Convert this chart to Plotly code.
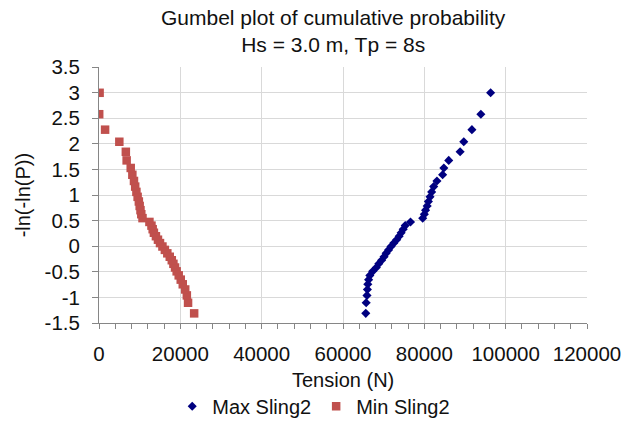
import plotly.graph_objects as go

# Gumbel reduced variate -ln(-ln(P)) for each ranked sample
reduced_variate = [-1.312, -1.105, -0.961, -0.845, -0.744, -0.653, -0.570, -0.491,
                   -0.416, -0.344, -0.274, -0.206, -0.139, -0.072, -0.006, 0.061,
                   0.127, 0.195, 0.263, 0.332, 0.402, 0.474, 0.548, 0.625, 0.704,
                   0.786, 0.873, 0.964, 1.061, 1.164, 1.274, 1.395, 1.528, 1.676,
                   1.844, 2.040, 2.276, 2.578, 2.996]

# Sling 2 tension extremes (N), ranked
max_sling2 = [65600, 65700, 65900, 66000, 66100, 66300, 66600, 67300, 68200, 68800,
              69500, 70100, 70600, 71200, 71800, 72500, 73200, 73800, 74300, 74800,
              75300, 76600, 79600, 80000, 80300, 80700, 81000, 81400, 81800, 82300,
              83100, 84500, 84800, 86000, 88800, 89700, 91700, 93900, 96300]
min_sling2 = [23400, 21900, 21600, 21200, 20600, 20100, 19600, 19100, 18700, 18300,
              17900, 17400, 16800, 16200, 15600, 15000, 14500, 14000, 13500, 13200,
              12900, 12400, 10700, 10400, 10200, 10000, 9800, 9500, 9200, 8900,
              8600, 8200, 7800, 6800, 6600, 5000, 1500, 50, 150]

x_ticks = [0, 20000, 40000, 60000, 80000, 100000, 120000]
y_ticks = [-1.5, -1, -0.5, 0, 0.5, 1, 1.5, 2, 2.5, 3, 3.5]

FONT = "Liberation Sans, Arial, sans-serif"
TEXT = "#111111"
GRID = "#d9d9d9"
AXIS = "#868686"

fig = go.Figure()
fig.add_trace(go.Scatter(
    x=max_sling2, y=reduced_variate, mode="markers", name="Max Sling2",
    marker=dict(symbol="diamond", size=7, color="#000080", line=dict(width=0)),
))
fig.add_trace(go.Scatter(
    x=min_sling2, y=reduced_variate, mode="markers", name="Min Sling2",
    marker=dict(symbol="square", size=8.5, color="#C0504D", line=dict(width=0)),
))

fig.update_layout(
    width=633, height=438,
    margin=dict(l=99, r=40, t=67, b=108),
    paper_bgcolor="white", plot_bgcolor="white",
    font=dict(family=FONT, size=20, color=TEXT),
    showlegend=True,
    legend=dict(
        orientation="h", x=0.44, xanchor="center", y=-0.325, yanchor="middle",
        font=dict(family=FONT, size=20, color=TEXT),
        itemwidth=30, bgcolor="rgba(0,0,0,0)",
    ),
    xaxis=dict(
        range=[0, 120000], tickvals=x_ticks, ticktext=[str(v) for v in x_ticks],
        showgrid=True, gridcolor=GRID, gridwidth=1,
        showline=True, linecolor=AXIS, linewidth=1,
        ticks="outside", ticklen=5, tickcolor=AXIS, ticklabelstandoff=7,
        minor=dict(dtick=4000, ticks="outside", ticklen=5, tickcolor=AXIS, showgrid=False),
        zeroline=False, tickfont=dict(size=20.5),
    ),
    yaxis=dict(
        range=[-1.5, 3.5], tickvals=y_ticks, ticktext=[f"{v:g}" for v in y_ticks],
        showgrid=True, gridcolor=GRID, gridwidth=1,
        showline=True, linecolor=AXIS, linewidth=1,
        ticks="outside", ticklen=6, tickcolor=AXIS, ticklabelstandoff=8,
        zeroline=False, tickfont=dict(size=20.5),
    ),
    annotations=[
        dict(text="Gumbel plot of cumulative probability<br>Hs = 3.0 m, Tp = 8s",
             xref="paper", yref="paper", x=0.48, y=1.14,
             xanchor="center", yanchor="middle", align="center",
             showarrow=False, font=dict(family=FONT, size=21, color=TEXT)),
        dict(text="Tension (N)", xref="paper", yref="paper",
             x=0.5, y=-0.222, xanchor="center", yanchor="middle",
             showarrow=False, font=dict(family=FONT, size=20, color=TEXT)),
        dict(text="-ln(-ln(P))", xref="paper", yref="paper",
             x=-0.155, y=0.5, xanchor="center", yanchor="middle", textangle=-90,
             showarrow=False, font=dict(family=FONT, size=20, color=TEXT)),
    ],
)

fig.write_html("out.html")
